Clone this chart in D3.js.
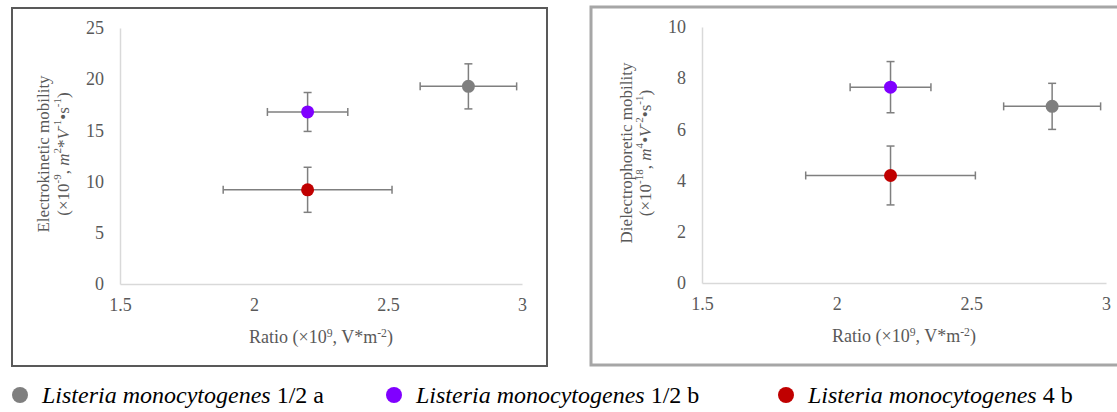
<!DOCTYPE html>
<html>
<head>
<meta charset="utf-8">
<script src="https://cdn.jsdelivr.net/npm/d3@7"></script>
<style>
  body { margin: 0; background: #fff; }
  text { font-family: "Liberation Serif", "Times New Roman", "DejaVu Serif", serif; }
</style>
</head>
<body>
<div id="chart"></div>
<script>
// strains and their colours
const strains = ["1/2 a", "1/2 b", "4 b"];
const colors = ["#7f7f7f", "#8000ff", "#c00000"];

// ratio (x10^9 V*m^-2) with error
const ratio = [2.8, 2.2, 2.2];
const ratioErr = [0.18, 0.15, 0.315];

// electrokinetic mobility (left panel)
const ekMob = [19.3, 16.8, 9.2];
const ekErr = [2.2, 1.9, 2.2];

// dielectrophoretic mobility (right panel)
const depMob = [6.9, 7.65, 4.2];
const depErr = [0.9, 1.0, 1.15];

const xTicks = [1.5, 2, 2.5, 3];
const ekTicks = [0, 5, 10, 15, 20, 25];
const depTicks = [0, 2, 4, 6, 8, 10];

const serif = "Liberation Serif, Times New Roman, DejaVu Serif, serif";

const svg = d3.select("#chart").append("svg")
    .attr("width", 1117).attr("height", 412)
    .attr("font-family", serif);

// writes a line of text made of pieces: {t, sup, it}
function richText(sel, parts) {
    parts.forEach(p => {
        let ts = sel.append("tspan").text(p.t);
        if (p.it) ts.style("font-style", "italic");
        if (p.sup) ts.attr("baseline-shift", "super").style("font-size", "65%");
    });
    return sel;
}

function drawPanel(opts) {
    let g = svg.append("g");

    // outer frame
    g.append("rect")
        .attr("x", opts.frame[0]).attr("y", opts.frame[1])
        .attr("width", opts.frame[2]).attr("height", opts.frame[3])
        .attr("fill", "none")
        .attr("stroke", opts.frameColor)
        .attr("stroke-width", opts.frameWidth);

    let x = d3.scaleLinear().domain([1.5, 3]).range([opts.left, opts.right]);
    let y = d3.scaleLinear().domain(opts.yDomain).range([opts.bottom, opts.top]);

    // axis lines, no ticks
    let xAxis = g.append("g")
        .attr("transform", `translate(0,${opts.bottom})`)
        .call(d3.axisBottom(x).tickValues(xTicks).tickSize(0).tickPadding(14)
            .tickFormat(d => d));
    let yAxis = g.append("g")
        .attr("transform", `translate(${opts.left},0)`)
        .call(d3.axisLeft(y).tickValues(opts.yTicks).tickSize(0).tickPadding(16));

    [xAxis, yAxis].forEach(a => {
        a.attr("font-family", serif).attr("font-size", 18);
        a.select(".domain").attr("stroke", "#d9d9d9").attr("stroke-width", 1.5);
        a.selectAll("text").attr("fill", "#595959");
    });

    // x title
    richText(g.append("text")
        .attr("x", opts.xTitleX).attr("y", opts.bottom + 59)
        .attr("text-anchor", "middle")
        .attr("font-size", 18)
        .attr("fill", "#595959"),
        [{t: "Ratio (×10"}, {t: "9", sup: true}, {t: ", V*m"}, {t: "-2", sup: true}, {t: ")"}]);

    // y title, two lines
    let cy = (opts.top + opts.bottom) / 2 - 2;
    g.append("text")
        .attr("transform", `translate(${opts.yTitleX[0]},${cy}) rotate(-90)`)
        .attr("text-anchor", "middle")
        .attr("dominant-baseline", "central")
        .attr("font-size", 17)
        .attr("fill", "#595959")
        .text(opts.yTitle1);
    richText(g.append("text")
        .attr("transform", `translate(${opts.yTitleX[1]},${cy}) rotate(-90)`)
        .attr("text-anchor", "middle")
        .attr("dominant-baseline", "central")
        .attr("font-size", 17)
        .attr("fill", "#595959"),
        opts.yTitle2);

    // error bars and points
    strains.forEach((s, i) => {
        let cx = x(ratio[i]), cyv = y(opts.vals[i]);
        let eb = g.append("g").attr("stroke", "#7f7f7f").attr("stroke-width", 1.5);
        let x0 = x(ratio[i] - ratioErr[i]), x1 = x(ratio[i] + ratioErr[i]);
        let y0 = y(opts.vals[i] - opts.errs[i]), y1 = y(opts.vals[i] + opts.errs[i]);
        eb.append("line").attr("x1", x0).attr("x2", x1).attr("y1", cyv).attr("y2", cyv);
        eb.append("line").attr("x1", x0).attr("x2", x0).attr("y1", cyv - 4).attr("y2", cyv + 4);
        eb.append("line").attr("x1", x1).attr("x2", x1).attr("y1", cyv - 4).attr("y2", cyv + 4);
        eb.append("line").attr("x1", cx).attr("x2", cx).attr("y1", y0).attr("y2", y1);
        eb.append("line").attr("x1", cx - 4).attr("x2", cx + 4).attr("y1", y0).attr("y2", y0);
        eb.append("line").attr("x1", cx - 4).attr("x2", cx + 4).attr("y1", y1).attr("y2", y1);
    });
    strains.forEach((s, i) => {
        g.append("circle")
            .attr("cx", x(ratio[i])).attr("cy", y(opts.vals[i]))
            .attr("r", 6.5)
            .attr("fill", colors[i]);
    });
}

drawPanel({
    frame: [12, 8, 535, 358], frameColor: "#595959", frameWidth: 2,
    left: 120, right: 522, top: 28, bottom: 284,
    yDomain: [0, 25], yTicks: ekTicks,
    vals: ekMob, errs: ekErr,
    xTitleX: 321, yTitleX: [43, 63],
    yTitle1: "Electrokinetic mobility",
    yTitle2: [{t: "(×10"}, {t: "-9", sup: true}, {t: ", "}, {t: "m", it: true}, {t: "2", sup: true},
              {t: "*"}, {t: "V", it: true}, {t: "-1", sup: true}, {t: "•s"}, {t: "-1", sup: true}, {t: ")"}]
});

drawPanel({
    frame: [591, 7, 540, 358], frameColor: "#a6a6a6", frameWidth: 3,
    left: 702, right: 1106, top: 27, bottom: 283,
    yDomain: [0, 10], yTicks: depTicks,
    vals: depMob, errs: depErr,
    xTitleX: 904, yTitleX: [626, 645],
    yTitle1: "Dielectrophoretic mobility",
    yTitle2: [{t: "(×10"}, {t: "-18", sup: true}, {t: ", "}, {t: "m", it: true}, {t: "4", sup: true},
              {t: "•"}, {t: "V", it: true}, {t: "-2", sup: true}, {t: "•s"}, {t: "-1", sup: true}, {t: ")"}]
});

// legend
const legendX = [14, 388, 780];
const legend = svg.append("g");
strains.forEach((s, i) => {
    legend.append("circle")
        .attr("cx", legendX[i] + 6).attr("cy", 395)
        .attr("r", 8).attr("fill", colors[i]);
    richText(legend.append("text")
        .attr("x", legendX[i] + 28).attr("y", 395)
        .attr("dominant-baseline", "central")
        .attr("font-size", 24)
        .attr("fill", "#000"),
        [{t: "Listeria monocytogenes", it: true}, {t: " " + s}]);
});
</script>
</body>
</html>
